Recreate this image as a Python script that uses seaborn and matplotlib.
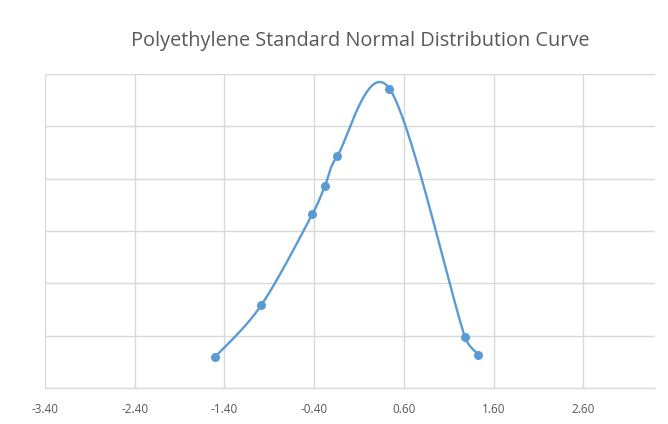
import numpy as np
import pandas as pd
import matplotlib
matplotlib.use("Agg")
import matplotlib.pyplot as plt
import seaborn as sns

# Data
x_vals = [-1.50, -0.99, -0.42, -0.28, -0.14, 0.44, 1.28, 1.43]
y_vals = [0.130, 0.179, 0.266, 0.293, 0.322, 0.386, 0.149, 0.132]
x_ticks = [-3.4, -2.4, -1.4, -0.4, 0.6, 1.6, 2.6]
x_tick_labels = ["-3.40", "-2.40", "-1.40", "-0.40", "0.60", "1.60", "2.60"]
y_ticks = [0.10, 0.15, 0.20, 0.25, 0.30, 0.35, 0.40]
title = "Polyethylene Standard Normal Distribution Curve"

sns.set_style("white")
plt.rcParams["font.family"] = ["Open Sans", "DejaVu Sans"]

W, H = 668, 424
fig = plt.figure(figsize=(W / 100, H / 100), dpi=100)
ax = fig.add_axes([45 / W, (H - 388) / H, (655 - 45) / W, (388 - 74) / H])
ax.set_xlim(-3.4, 3.4)
ax.set_ylim(0.10, 0.40)

blue = "#5B9BD5"

# Excel-style smoothed line: cubic Bezier through points, computed in display space
pts = ax.transData.transform(np.column_stack([x_vals, y_vals]))
n = len(pts)
tangents = []
for i in range(n):
    a = pts[i - 1] if i > 0 else pts[i]
    b = pts[i + 1] if i + 1 < n else pts[i]
    tangents.append((b - a) / 6.0)


def clamp(v, lim):
    L = np.hypot(*v)
    return v if L <= lim or L == 0 else v * (lim / L)


curve = []
for i in range(n - 1):
    p1, p2 = pts[i], pts[i + 1]
    seglen = np.hypot(*(p2 - p1))
    c1 = p1 + clamp(tangents[i], seglen / 2.0)
    c2 = p2 - clamp(tangents[i + 1], seglen / 2.0)
    t = np.linspace(0, 1, 40)[:, None]
    seg = ((1 - t) ** 3) * p1 + 3 * ((1 - t) ** 2) * t * c1 + 3 * (1 - t) * t ** 2 * c2 + t ** 3 * p2
    curve.append(seg if i == 0 else seg[1:])
curve = np.vstack(curve)
curve_data = ax.transData.inverted().transform(curve)
df_curve = pd.DataFrame({"x": curve_data[:, 0], "y": curve_data[:, 1]})

sns.lineplot(data=df_curve, x="x", y="y", sort=False, ax=ax, color=blue, linewidth=1.7, estimator=None)
df_pts = pd.DataFrame({"x": x_vals, "y": y_vals})
sns.scatterplot(data=df_pts, x="x", y="y", ax=ax, color=blue, s=42, edgecolor=blue, linewidth=0, zorder=3)

ax.set_xticks(x_ticks)
ax.set_xticklabels(x_tick_labels)
ax.set_yticks(y_ticks)
ax.set_yticklabels([])
ax.set_xlabel("")
ax.set_ylabel("")
ax.grid(True, color="#D9D9D9", linewidth=1.0)
ax.set_axisbelow(True)
for s in ["top", "right", "left"]:
    ax.spines[s].set_visible(False)
ax.spines["bottom"].set_color("#D9D9D9")
ax.spines["bottom"].set_linewidth(1.0)
ax.tick_params(axis="x", length=0, pad=11, labelsize=8.5, labelcolor="#595959")
ax.tick_params(axis="y", length=0)

fig.text(360 / W, 1 - 41 / H, title, ha="center", va="center", fontsize=14.3, color="#595959")

fig.savefig("out.png", dpi=100, facecolor="white")
